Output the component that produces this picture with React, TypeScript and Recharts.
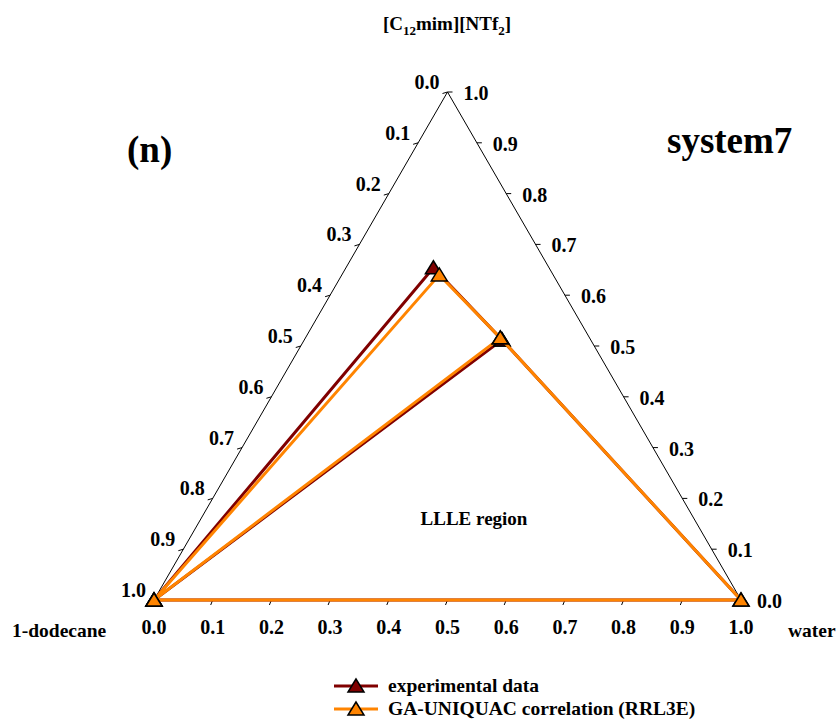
import React from "react";
import { ScatterChart, Scatter, XAxis, YAxis } from "recharts";

// mole fractions (1-dodecane = 1 - IL - water)
const EXP_IL = [0.0, 0.654, 0.512, 0.0];
const EXP_WATER = [0.0, 0.149, 0.337, 1.0];
const CALC_IL = [0.0, 0.64, 0.516, 0.0];
const CALC_WATER = [0.0, 0.166, 0.332, 1.0];
// order the phase points are joined: dodecane -> IL rich -> middle -> water -> dodecane -> middle
const PATH = [0, 1, 2, 3, 0, 2];

const TICK_VALUES = [0, 0.1, 0.2, 0.3, 0.4, 0.5, 0.6, 0.7, 0.8, 0.9, 1.0];
const TICK_LABELS = ["0.0", "0.1", "0.2", "0.3", "0.4", "0.5", "0.6", "0.7", "0.8", "0.9", "1.0"];

const SERIES_NAMES = ["experimental data", "GA-UNIQUAC correlation (RRL3E)"];

const W = 840;
const H = 723;
const DARK = "#800000";
const ORANGE = "#ff8400";
const FONT = "'Liberation Serif', 'Times New Roman', serif";

// ternary -> cartesian, y in units of IL fraction (plot box keeps it equilateral)
function toXY(il: number, water: number) {
  return { x: water + il / 2, y: il };
}

const frame = [toXY(0, 0), toXY(1, 0), toXY(0, 1), toXY(0, 0)];

const expData = PATH.map((i) => toXY(EXP_IL[i], EXP_WATER[i]));
const calcData = PATH.map((i) => toXY(CALC_IL[i], CALC_WATER[i]));

const bottomTicks = TICK_VALUES.map((v, i) => ({ ...toXY(0, v), label: TICK_LABELS[i] }));
// left side: 1-dodecane fraction, 0 at the apex
const leftTicks = TICK_VALUES.map((v, i) => ({ ...toXY(1 - v, 0), label: TICK_LABELS[i] }));
// right side: IL fraction, 1 at the apex
const rightTicks = TICK_VALUES.map((v, i) => ({ ...toXY(v, 1 - v), label: TICK_LABELS[i] }));

const labelStyle = { fontFamily: FONT, fontWeight: "bold" as const, fontSize: 20, fill: "#000" };

const Triangle = (color: string) => (p: any) => {
  const { cx, cy } = p;
  return (
    <polygon
      points={`${cx},${cy - 7} ${cx - 8},${cy + 6} ${cx + 8},${cy + 6}`}
      fill={color}
      stroke="#000"
      strokeWidth={1.5}
      strokeLinejoin="miter"
    />
  );
};

const Nothing = () => <g />;

const BottomTick = (p: any) => (
  <g>
    <line x1={p.cx} y1={p.cy} x2={p.cx - 2} y2={p.cy + 5} stroke="#000" strokeWidth={1} />
    <text x={p.cx} y={p.cy + 34} textAnchor="middle" style={labelStyle}>
      {p.payload.label}
    </text>
  </g>
);

const LeftTick = (p: any) => (
  <g>
    <line x1={p.cx} y1={p.cy} x2={p.cx - 5} y2={p.cy + 1.5} stroke="#000" strokeWidth={1} />
    <text x={p.cx - 8} y={p.cy - 3} textAnchor="end" style={labelStyle}>
      {p.payload.label}
    </text>
  </g>
);

const RightTick = (p: any) => (
  <g>
    <line x1={p.cx} y1={p.cy} x2={p.cx + 5} y2={p.cy} stroke="#000" strokeWidth={1} />
    <text x={p.cx + 16} y={p.cy + 8} textAnchor="start" style={labelStyle}>
      {p.payload.label}
    </text>
  </g>
);

function Overlay() {
  const t = { fontFamily: FONT, fontWeight: "bold" as const, fill: "#000" };
  return (
    <svg
      width={W}
      height={H}
      style={{ position: "absolute", left: 0, top: 0, pointerEvents: "none" }}
    >
      <text x={447} y={30} textAnchor="middle" style={{ ...t, fontSize: 19 }}>
        [C<tspan fontSize={13} dy={5}>12</tspan>
        <tspan dy={-5}>mim][NTf</tspan>
        <tspan fontSize={13} dy={5}>2</tspan>
        <tspan dy={-5}>]</tspan>
      </text>
      <text x={127} y={162} style={{ ...t, fontSize: 37 }}>(n)</text>
      <text x={667} y={153} style={{ ...t, fontSize: 37 }}>system7</text>
      <text x={12} y={637} style={{ ...t, fontSize: 19.5 }}>1-dodecane</text>
      <text x={788} y={637} style={{ ...t, fontSize: 19.5 }}>water</text>
      <text x={474} y={525} textAnchor="middle" style={{ ...t, fontSize: 19 }}>LLLE region</text>

      {/* legend */}
      {SERIES_NAMES.map((name, i) => {
        const y = 686 + i * 23;
        const c = i === 0 ? DARK : ORANGE;
        return (
          <g key={name}>
            <line x1={334} y1={y} x2={378} y2={y} stroke={c} strokeWidth={3} />
            <polygon
              points={`356,${y - 7} 348,${y + 6} 364,${y + 6}`}
              fill={c}
              stroke="#000"
              strokeWidth={1.5}
            />
            <text x={388} y={y + 6} style={{ ...t, fontSize: 19.5 }}>{name}</text>
          </g>
        );
      })}
    </svg>
  );
}

export default function App() {
  return (
    <div style={{ position: "absolute", left: 0, top: 0, width: W, height: H, background: "#fff" }}>
      <ScatterChart
        width={W}
        height={H}
        margin={{ top: 92, right: 99, bottom: 123, left: 154 }}
      >
        <XAxis type="number" dataKey="x" domain={[0, 1]} hide />
        <YAxis type="number" dataKey="y" domain={[0, 1]} hide />
        <Scatter
          data={frame}
          line={{ stroke: "#000", strokeWidth: 1 }}
          shape={Nothing}
          isAnimationActive={false}
        />
        <Scatter data={bottomTicks} shape={BottomTick} isAnimationActive={false} />
        <Scatter data={leftTicks} shape={LeftTick} isAnimationActive={false} />
        <Scatter data={rightTicks} shape={RightTick} isAnimationActive={false} />
        <Scatter
          name={SERIES_NAMES[0]}
          data={expData}
          fill={DARK}
          line={{ stroke: DARK, strokeWidth: 3 }}
          shape={Triangle(DARK)}
          isAnimationActive={false}
        />
        <Scatter
          name={SERIES_NAMES[1]}
          data={calcData}
          fill={ORANGE}
          line={{ stroke: ORANGE, strokeWidth: 3 }}
          shape={Triangle(ORANGE)}
          isAnimationActive={false}
        />
      </ScatterChart>
      <Overlay />
    </div>
  );
}
